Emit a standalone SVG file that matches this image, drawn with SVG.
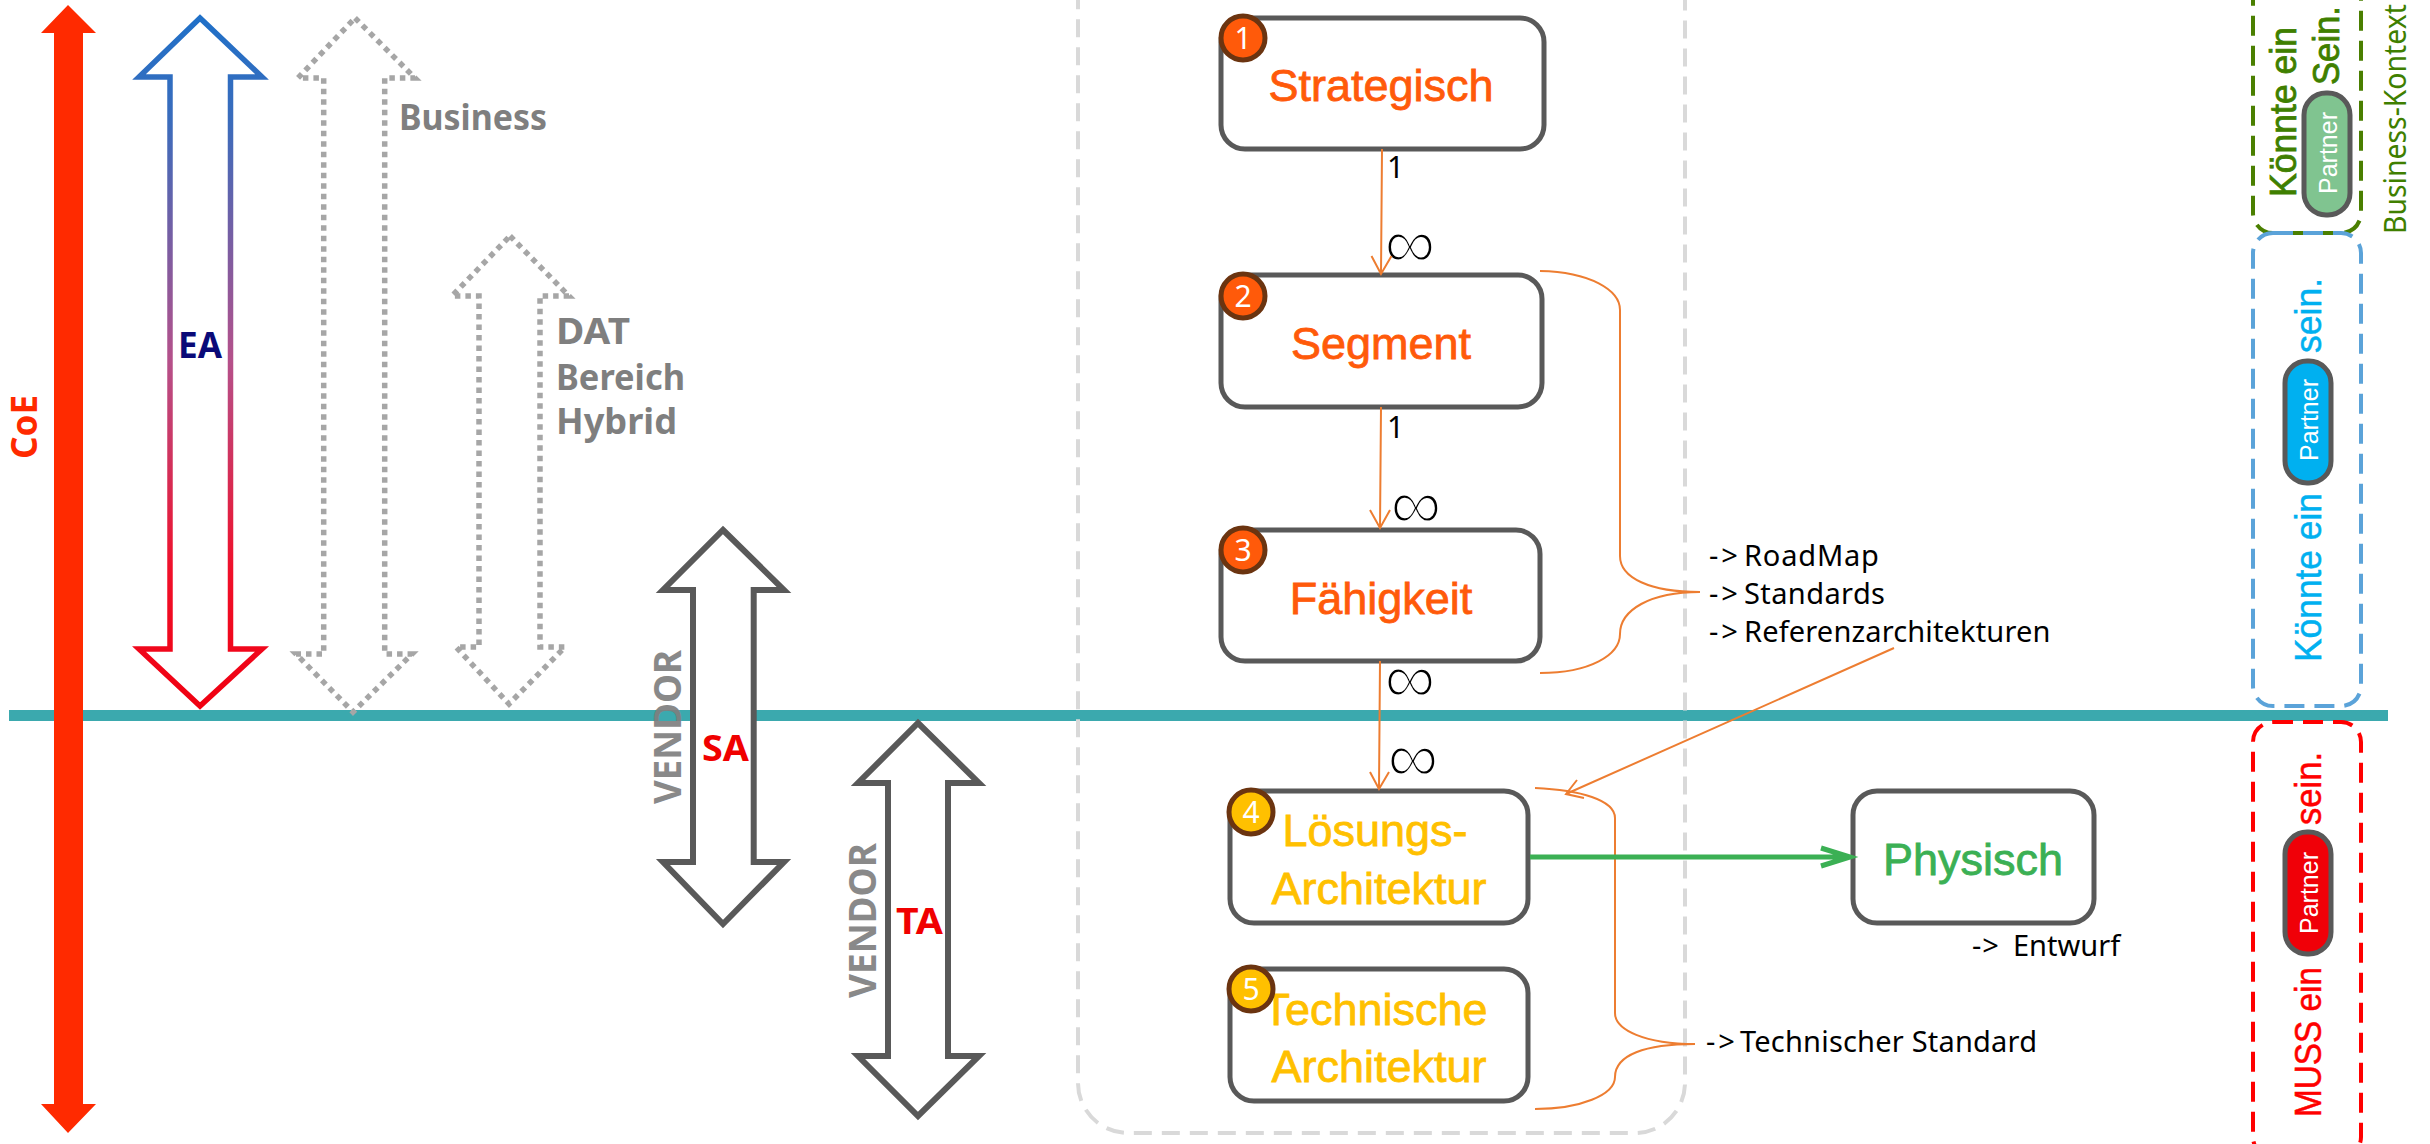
<svg xmlns="http://www.w3.org/2000/svg" width="2430" height="1144" viewBox="0 0 2430 1144">
<defs>
<linearGradient id="eaGrad" gradientUnits="userSpaceOnUse" x1="0" y1="15" x2="0" y2="709">
<stop offset="0" stop-color="#1F70C8"/><stop offset="0.15" stop-color="#3A6CBC"/><stop offset="0.5" stop-color="#B5508A"/><stop offset="0.8" stop-color="#F0102A"/><stop offset="1" stop-color="#F00010"/>
</linearGradient>
</defs>
<style>
.bold{font-family:"Noto Sans","Open Sans",sans-serif;font-weight:700}
.gray{fill:#7F7F7F}
.reg{font-family:"Noto Sans","Open Sans",sans-serif;fill:#000;font-size:29px}
.lab{font-family:"Liberation Sans",Arial,sans-serif;font-size:45px;text-anchor:middle;stroke-width:0.8}
.orange{fill:#FF5A0A;stroke:#FF5A0A}.yellow{fill:#FFC000;stroke:#FFC000}.green{fill:#3BB054;stroke:#3BB054}
.box{fill:#fff;stroke:#595959;stroke-width:5}
.badge{stroke:#6B3410;stroke-width:5}
.num{font-family:"Noto Sans",sans-serif;font-size:30px;fill:#fff;text-anchor:middle}
.dotted{fill:#fff;stroke:#A6A6A6;stroke-width:5.500;stroke-dasharray:5.500 5}
.dbl{fill:#fff;stroke:#595959;stroke-width:6}
.or{fill:none;stroke:#ED7D31;stroke-width:2}
.inf{font-family:"Liberation Sans",sans-serif;font-size:72px;fill:#000;stroke:#fff;stroke-width:2.500;text-anchor:middle}
.one{font-family:"Noto Sans",sans-serif;font-size:30px;fill:#000}
.dash{fill:none;stroke-width:4;stroke-dasharray:20 10}
.rot{font-family:"Liberation Sans",Arial,sans-serif;font-size:36px}
.pill{stroke:#595959;stroke-width:5}
.pt{font-family:"Liberation Sans",Arial,sans-serif;font-size:26px;fill:#fff}
</style>

<rect id="teal-line" x="9" y="710" width="2379" height="11" fill="#3BA9AE"/>

<g id="container"><rect x="1078" y="-60" width="607" height="1193" rx="50" ry="50" fill="none" stroke="#D9D9D9" stroke-width="4" stroke-dasharray="18 10"/></g>

<g id="coe">
<polygon points="68,5 96,33 83,33 83,1104 96,1104 68,1133 41,1104 54,1104 54,33 41,33" fill="#FF2A00"/>
<text class="bold" font-size="36" fill="#FF2A00" transform="translate(37,459) rotate(-90)" textLength="64" lengthAdjust="spacingAndGlyphs">CoE</text>
</g>

<g id="ea">
<polygon points="200,18 262,77 230.500,77 230.500,649 262,649 200,706 139,649 170,649 170,77 139,77" fill="#fff" stroke="url(#eaGrad)" stroke-width="5.500"/>
<text class="bold" font-size="36" fill="#0A0A78" x="178" y="358" textLength="44" lengthAdjust="spacingAndGlyphs">EA</text>
</g>

<g id="business">
<polygon class="dotted" points="355,18 415,78 384.700,78 384.700,654 412,654 353,712 296,654 323.700,654 323.700,78 298,78"/>
<text class="bold gray" font-size="36" x="399" y="130" textLength="148" lengthAdjust="spacingAndGlyphs">Business</text>
</g>

<g id="dat">
<polygon class="dotted" points="510,236 569,296 540,296 540,647 565,647 509,704 456,647 479,647 479,296 452,296"/>
<text class="bold gray" font-size="36" x="556" y="344" textLength="74" lengthAdjust="spacingAndGlyphs">DAT</text>
<text class="bold gray" font-size="36" x="556" y="390" textLength="129" lengthAdjust="spacingAndGlyphs">Bereich</text>
<text class="bold gray" font-size="36" x="556" y="434" textLength="121" lengthAdjust="spacingAndGlyphs">Hybrid</text>
</g>

<g id="sa">
<polygon class="dbl" points="723,530 784,590 753.700,590 753.700,862 784,862 723,924 663,862 693,862 693,590 663,590"/>
<text class="bold gray" font-size="38" opacity="0.92" transform="translate(681,804) rotate(-90)" textLength="154" lengthAdjust="spacingAndGlyphs">VENDOR</text>
<text class="bold" font-size="36" fill="#F00000" x="702" y="761" textLength="47" lengthAdjust="spacingAndGlyphs">SA</text>
</g>

<g id="ta">
<polygon class="dbl" points="918,723 979,783 948,783 948,1056 979,1056 918,1116 858,1056 888,1056 888,783 858,783"/>
<text class="bold gray" font-size="38" opacity="0.92" transform="translate(876,998) rotate(-90)" textLength="155" lengthAdjust="spacingAndGlyphs">VENDOR</text>
<text class="bold" font-size="36" fill="#F00000" x="896" y="934" textLength="47" lengthAdjust="spacingAndGlyphs">TA</text>
</g>

<g id="node-1">
<rect class="box" x="1221" y="18" width="323" height="131" rx="24"/>
<circle class="badge orange" style="stroke:#6B3410" cx="1243" cy="38" r="22"/>
<text class="num" x="1243" y="49">1</text>
<text class="lab orange" x="1381" y="101">Strategisch</text>
</g>
<g id="node-2">
<rect class="box" x="1221" y="275" width="321" height="132" rx="24"/>
<circle class="badge orange" style="stroke:#6B3410" cx="1243" cy="296" r="22"/>
<text class="num" x="1243" y="307">2</text>
<text class="lab orange" x="1381" y="359">Segment</text>
</g>
<g id="node-3">
<rect class="box" x="1221" y="530" width="319" height="131" rx="24"/>
<circle class="badge orange" style="stroke:#6B3410" cx="1243" cy="550" r="22"/>
<text class="num" x="1243" y="561">3</text>
<text class="lab orange" x="1381" y="614">Fähigkeit</text>
</g>
<g id="node-4">
<rect class="box" x="1230" y="791" width="298" height="132" rx="24"/>
<text class="lab yellow" x="1375" y="846">Lösungs-</text>
<text class="lab yellow" x="1379" y="904">Architektur</text>
<circle class="badge yellow" style="stroke:#6B3410" cx="1251" cy="812" r="22"/>
<text class="num" x="1251" y="823">4</text>
</g>
<g id="node-5">
<rect class="box" x="1230" y="969" width="298" height="132" rx="24"/>
<text class="lab yellow" x="1375" y="1025">Technische</text>
<text class="lab yellow" x="1379" y="1082">Architektur</text>
<circle class="badge yellow" style="stroke:#6B3410" cx="1251" cy="989" r="22"/>
<text class="num" x="1251" y="1000">5</text>
</g>
<g id="node-physisch">
<rect class="box" x="1853" y="791" width="241" height="132" rx="24"/>
<text class="lab green" x="1973" y="875">Physisch</text>
</g>

<g id="connectors">
<text class="inf" x="1410" y="268">∞</text>
<text class="inf" x="1416" y="529">∞</text>
<text class="inf" x="1410" y="703">∞</text>
<text class="inf" x="1413" y="782">∞</text>
<path class="or" d="M1382,149 L1381,274 M1371.500,256 L1381,274 L1391.500,256"/>
<path class="or" d="M1381,407 L1380,528 M1370,510 L1380,528 L1390,510"/>
<path class="or" d="M1380,661 L1379,789 M1370,772 L1379,789 L1389,772"/>
<path class="or" d="M1540,271 C1590,272 1620,290 1620,310 L1620,556 C1620,578 1650,592 1700,592 C1650,592 1620,610 1620,634 C1620,655 1590,673 1540,673"/>
<path class="or" d="M1535,788 C1580,790 1615,800 1615,818 L1615,1013 C1615,1030 1645,1044 1695,1044 C1645,1044 1615,1055 1615,1077 C1615,1095 1580,1109 1535,1109"/>
<path class="or" d="M1894,648 L1566,794 M1577,780 L1566,794 L1584,798"/>
<path d="M1530,857 L1848,857 M1821,848 L1850,857 L1821,866" fill="none" stroke="#3BB054" stroke-width="5"/>
<text class="one" x="1387" y="178">1</text>
<text class="one" x="1387" y="438">1</text>
</g>

<g id="notes">
<text class="reg" x="1709" y="566" letter-spacing="3">-&gt;<tspan x="1744" letter-spacing="0.800">RoadMap</tspan></text>
<text class="reg" x="1709" y="604" letter-spacing="3">-&gt;<tspan x="1744" letter-spacing="0.400">Standards</tspan></text>
<text class="reg" x="1709" y="642" letter-spacing="3">-&gt;<tspan x="1744" letter-spacing="0.150">Referenzarchitekturen</tspan></text>
<text class="reg" x="1972" y="956" letter-spacing="1">-&gt; <tspan x="2013" letter-spacing="0">Entwurf</tspan></text>
<text class="reg" x="1706" y="1052" letter-spacing="3">-&gt;<tspan x="1740" letter-spacing="0.200">Technischer Standard</tspan></text>
</g>

<g id="partner-green">
<rect class="dash" stroke="#4A7F00" x="2253" y="-60" width="108" height="293" rx="20"/>
<text class="rot" fill="#3F7F00" stroke="#3F7F00" stroke-width="0.800" transform="translate(2296,197) rotate(-90)" textLength="170" lengthAdjust="spacingAndGlyphs">Könnte ein</text>
<text class="rot" fill="#3F7F00" stroke="#3F7F00" stroke-width="0.800" transform="translate(2339,85) rotate(-90)" textLength="79" lengthAdjust="spacingAndGlyphs">Sein.</text>
<rect class="pill" fill="#80C490" x="2304" y="93" width="46" height="122" rx="22"/>
<text class="pt" transform="translate(2337,194) rotate(-90)" textLength="82" lengthAdjust="spacingAndGlyphs">Partner</text>
<text fill="#3F7F00" style="font-family:'Noto Sans',sans-serif;font-size:31px" transform="translate(2406,234) rotate(-90)" textLength="230" lengthAdjust="spacingAndGlyphs">Business-Kontext</text>
</g>

<g id="partner-blue">
<rect class="dash" stroke="#5BA3D9" x="2253" y="233" width="108" height="473" rx="20"/>
<text class="rot" fill="#00B0F0" stroke="#00B0F0" stroke-width="0.500" transform="translate(2321,662) rotate(-90)" textLength="169" lengthAdjust="spacingAndGlyphs">Könnte ein</text>
<text class="rot" fill="#00B0F0" stroke="#00B0F0" stroke-width="0.500" transform="translate(2321,353) rotate(-90)" textLength="75" lengthAdjust="spacingAndGlyphs">sein.</text>
<rect class="pill" fill="#00B0F0" x="2285" y="361" width="46" height="122" rx="22"/>
<text class="pt" transform="translate(2318,461) rotate(-90)" textLength="82" lengthAdjust="spacingAndGlyphs">Partner</text>
</g>

<g id="partner-red">
<rect class="dash" stroke="#FF0000" x="2253" y="722" width="108" height="435" rx="20"/>
<text class="rot" fill="#FF0000" stroke="#FF0000" stroke-width="0.500" transform="translate(2321,1117) rotate(-90)" textLength="150" lengthAdjust="spacingAndGlyphs">MUSS ein</text>
<text class="rot" fill="#FF0000" stroke="#FF0000" stroke-width="0.500" transform="translate(2321,825) rotate(-90)" textLength="73" lengthAdjust="spacingAndGlyphs">sein.</text>
<rect class="pill" fill="#F00008" x="2285" y="832" width="46" height="122" rx="22"/>
<text class="pt" transform="translate(2318,934) rotate(-90)" textLength="82" lengthAdjust="spacingAndGlyphs">Partner</text>
</g>
</svg>
